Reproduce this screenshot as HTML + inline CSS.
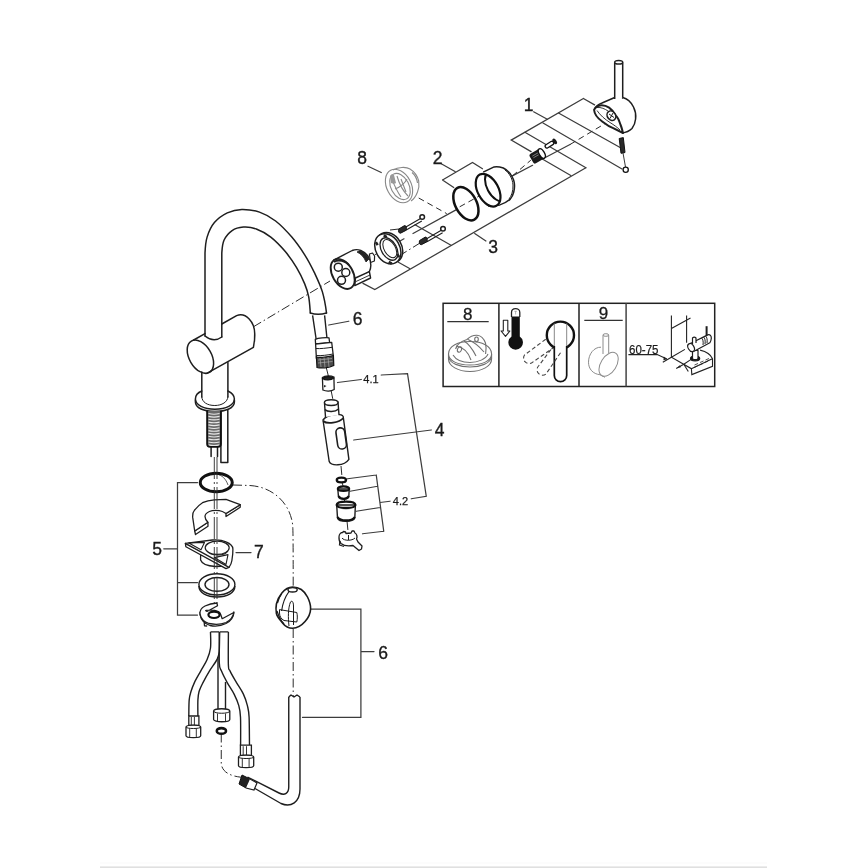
<!DOCTYPE html>
<html><head><meta charset="utf-8">
<style>
html,body{margin:0;padding:0;background:#fff;width:868px;height:868px;overflow:hidden}
svg{display:block}
text{font-family:"Liberation Sans",sans-serif;fill:#1a1a1a}
svg{will-change:transform}
</style></head><body>
<svg width="868" height="868" viewBox="0 0 868 868">
<rect width="868" height="868" fill="#fff"/>
<rect x="100" y="866.4" width="667" height="1.6" fill="#e0e0e0"/><rect x="100" y="862.5" width="667" height="1" fill="#fafafa"/>

<!-- ===== leader / bracket lines ===== -->
<g fill="none" stroke="#3c3c3c" stroke-width="1.25" stroke-linecap="round">
<!-- bracket 1 -->
<path d="M533.6,111.8 L547.3,119.2"/>
<path d="M583.4,98.5 L594.6,104.9 M583.4,98.5 L511.2,140.1 L531.1,151.6"/>
<path d="M558.5,113 L621,148 M543,123 L622,169 M524.9,132.3 L585.9,167.8 M542.3,159 L570.8,175.5"/>
<!-- bracket 3 -->
<path d="M363,283.4 L374.8,289.6 L585.9,167.8"/>
<path d="M398.4,262.3 L409.6,268.5 M415,224.8 L451,245.3 M474.7,233.5 L485.9,241"/>
<path d="M397,242.8 L404,238.8 M413,233.5 L456,209.9"/>
<path d="M512.4,175.9 L532.6,165.3"/>
<path d="M542.5,159 L570,144.5"/>
<!-- bracket 2 -->
<path d="M441.25,163.75 L455,171.5 M442.5,180 L472.5,162.5 L482.5,168.75 M442.5,180 L453.75,187.5"/>
<!-- label 8 -->
<path d="M368,166.25 L381.25,172.5"/>
<!-- label 6 top -->
<path d="M328.75,325 L348.75,321.25"/>
<!-- 4.1 / 4 / 4.2 -->
<path d="M337.5,382.5 L361.25,379.5 M381.25,375 L407.5,373.75 L426.25,496.25 L411.25,498.75"/>
<path d="M353.75,440 L431.25,430"/>
<path d="M347.5,478.75 L376.25,475 M350,491.25 L377.5,486.25 M356.25,511.25 L380,507.5 M362.5,533.75 L383.75,531.25 M376.25,475 L383.75,531.25 M380,502.5 L390,501.25"/>
<!-- bracket 5 -->
<path d="M197.5,482.5 L177.5,482.5 L177.5,615 L197.5,615 M177.5,582.5 L197.5,582.5 M163.75,548.75 L177.5,548.75"/>
<!-- label 7 -->
<path d="M236,552.5 L251,552.5"/>
<!-- bracket 6 -->
<path d="M310.5,609.2 L360.9,609.2 L360.9,717.4 L302.5,717.4 M360.9,651.5 L374,651.5"/>
</g>

<!-- ===== dash-dot axis lines ===== -->
<g fill="none" stroke="#2a2a2a" stroke-width="1" stroke-dasharray="9,3,1.5,3">
<path d="M253.4,326.8 L330,281"/>
<path d="M233,485 L250,485.5 C273,487 290,503 292.7,525 C293,530 293.2,540 293.2,587"/>
<path d="M293.2,629 L293.2,696"/>

<path d="M221.25,733.5 L221.25,763.5 C222,772 230,776 241.25,777.25"/>
<path d="M326.25,367.5 L328.75,377.5 M331,390 L333,400"/>
<path d="M341,466 L342,477 M342,482 L343,486 M344,499 L345,502 M347,521 L348,531"/>
<path d="M374.8,254.8 L381,251"/>
<path d="M399,256 L420,243 M390,230 L399,229"/>
</g>
<g fill="none" stroke="#2a2a2a" stroke-width="1" stroke-dasharray="6,4">
<path d="M418.7,198 L446.7,213.6"/>
<path d="M459.7,206.8 L483.4,193.7"/>
<path d="M512.4,175.9 L530.8,160.2"/>
<path d="M570,144.5 L606,123"/>

</g>

<g fill="none" stroke="#1e1e1e" stroke-width="1.5" stroke-linejoin="round" stroke-linecap="round">
<!-- spout -->
<path d="M205,336 L205,253.2 C205.3,246.9 205.5,242.2 207.1,237.1 C208.7,232.0 211.0,226.6 214.4,222.6 C217.8,218.6 222.7,215.1 227.3,212.9 C231.9,210.7 236.4,209.5 241.8,209.4 C247.2,209.3 253.9,210.2 259.5,212.1 C265.1,214.0 270.2,216.8 275.6,221.0 C281.0,225.2 287.0,231.5 291.8,237.1 C296.6,242.7 300.9,248.9 304.7,254.8 C308.5,260.7 311.4,266.4 314.4,272.6 C317.3,278.8 320.4,285.2 322.4,291.9 C324.4,298.6 325.7,306.5 326.5,312.9"/>
<path d="M221.8,337 L221.8,253.2 C222.2,247.4 222.3,244.1 224.0,240.3 C225.7,236.5 228.9,232.8 232.1,230.6 C235.3,228.4 239.4,227.4 243.4,227.1 C247.4,226.8 251.7,227.3 256.3,229.0 C260.9,230.7 266.0,233.3 270.8,237.1 C275.6,240.9 281.0,246.5 285.3,251.6 C289.6,256.7 293.4,262.3 296.6,267.7 C299.8,273.1 302.7,279.0 304.7,283.9 C306.7,288.8 307.8,292.0 308.7,296.8 C309.6,301.6 309.9,307.4 310.3,312.9"/>
<path d="M310.3,313 Q318,315.5 326.5,313"/>
<path d="M205,336 Q213.6,343 221.8,337"/>
<!-- body -->
<ellipse cx="200.4" cy="356.7" rx="11.1" ry="18.1" transform="rotate(-30 200.4 356.7)"/>
<path d="M193.7,340 L205,333.6 M221.8,324 L236.6,315.6 C246,312 254.7,322 254.7,333.6 C255,340 254,344 253.4,347.3 L206.8,373.4"/>
<!-- column -->
<path d="M201.8,372 L201.8,397 M227.9,362.5 L227.9,397"/>
<!-- flange -->
<path d="M201.8,391 C197,393 195.4,396 195.4,399 C195.4,405 204,409.2 214.9,409.2 C226,409.2 234.4,405 234.4,399 C234.4,396 232,393 227.9,391"/>
<path d="M195.4,400 L195.4,402 C195.4,408 204,411.5 214.9,411.5 C226,411.5 234.4,408 234.4,402 L234.4,400"/>
<path d="M201.8,397 C202,402 207,405.5 214.8,405.5 C222,405.5 227.6,402 227.9,397" stroke-width="1"/>
<!-- threaded rod -->

<path d="M220.9,412 L220.9,462.5 M227.8,410 L227.8,462.5 M220.9,462.5 L227.8,462.5"/>
<path d="M211.1,446.8 L211.1,456.6 M217.5,446.8 L217.5,456.6"/>
</g>
<rect x="207.1" y="410.8" width="13.8" height="35.5" rx="2" fill="#6a6a6a"/>
<g fill="none" stroke="#e8e8e8" stroke-width="1.1"><path d="M208.5,413.5 Q214,414.9 219.5,413.5"/><path d="M208.5,416.4 Q214,417.8 219.5,416.4"/><path d="M208.5,419.2 Q214,420.6 219.5,419.2"/><path d="M208.5,422.1 Q214,423.4 219.5,422.1"/><path d="M208.5,424.9 Q214,426.3 219.5,424.9"/><path d="M208.5,427.8 Q214,429.1 219.5,427.8"/><path d="M208.5,430.6 Q214,432.0 219.5,430.6"/><path d="M208.5,433.4 Q214,434.8 219.5,433.4"/><path d="M208.5,436.3 Q214,437.7 219.5,436.3"/><path d="M208.5,439.1 Q214,440.5 219.5,439.1"/><path d="M208.5,442.0 Q214,443.4 219.5,442.0"/><path d="M208.5,444.9 Q214,446.2 219.5,444.9"/></g>
<path d="M207.1,410.8 L207.1,444 Q207.1,446.8 210,446.8 L218,446.8 Q220.9,446.8 220.9,444 L220.9,410.8" fill="none" stroke="#111" stroke-width="1.8"/>

<!-- O-ring -->
<path d="M216.5,474 C222,475 226,479 228,485" fill="none" stroke="#333" stroke-width="0.8"/>
<ellipse cx="216.25" cy="482.5" rx="16" ry="9.3" fill="none" stroke="#111" stroke-width="3"/>

<!-- shim (half moon) -->
<g fill="#fff" stroke="#1e1e1e" stroke-width="1.3" stroke-linejoin="round">
<path d="M194.7,531 L195.5,534.5 L208,526.3 L207.9,522.3 Z"/>
<path d="M240.2,504.7 L240.2,507.3 L226,516.5 L226,513.5 Z"/>
<path d="M194.7,531 L192.7,517.4 C192.5,514 193,512 194.2,510.6 C197,507 199.5,504.5 202.5,502.7 C207,500.5 211,500 214.3,499.8 L226,499.3 L240.2,504.7 L226,513.5 C223,511.5 221,510.8 219.2,510.6 C215,510.2 211.5,510.6 209.4,511.5 C206.5,512.8 205,514.5 205,516.4 C205,518.5 205.8,520 207.9,522.3 Z"/>
</g>

<!-- part 7 triangle -->
<g fill="#fff" stroke="#1e1e1e" stroke-width="1.3" stroke-linejoin="round">
<path d="M200.6,555 L200.6,560 C202,564 208,566 215.3,566.5 L226,566 L226,556 Z"/>
<path d="M185.4,543.4 L185.9,546.8 L226,568.6 L229,567.4 L226,564 Z"/>
<path d="M185.4,543.4 L212.3,540 C218,539.5 222,540 226,541.9 C230,543.5 232.9,546 232.9,549 C233,553 232.5,557 231.9,560.5 C231.5,563 230.5,565.5 229,567.4 L185.4,543.4 Z"/>
<path d="M188.8,542.9 L204.5,542.4 L201,549.7 Z" fill="none" stroke-width="1.1"/>
<path d="M214.3,557.6 L228,554.6 L226,564.4 Z" fill="none" stroke-width="1.1"/>
<ellipse cx="217.2" cy="547.8" rx="12" ry="6.6" fill="none" stroke-width="1.2"/>
<path d="M207,551 C209,554 213,555 218,555 C223,555 226.5,553.5 228,551" fill="none" stroke-width="1.1"/>
</g>

<!-- washer -->
<g fill="none" stroke="#1e1e1e" stroke-width="1.4">
<ellipse cx="216.9" cy="584.4" rx="18" ry="10.6"/>
<ellipse cx="217" cy="584.4" rx="12" ry="6.9"/>
<path d="M198.9,586 C199,593 207,597 217,597 C227,597 234.9,593 234.9,586"/>
</g>

<!-- C clip -->
<g fill="#fff" stroke="#1e1e1e" stroke-width="1.3" stroke-linejoin="round">
<path d="M200.1,612 L200.1,614.5 C201,620 205,624 210,625.5 C215,626.5 221,626 226,623.5 C230.5,621 233.5,617 233.8,613.1 L233.8,611.5"/>
<path d="M217,603 L217.5,605.8 L207,611.5 C205.5,611 205.5,610.5 206.1,610.4 C209,610 212,610 214.7,610.4 C218,611 220,612 220.5,614 L222.2,618.7 L233.8,612.5 C233,617 230,620.5 226,622.5 C221,624.5 215,624.8 209,623.5 C204,622 201,619 200.1,614.5 C199.5,611 201,608 205,606 C208,604.5 212,603.3 217,603 Z"/>
<path d="M204.2,622.4 L204.5,625.8 L207.2,626" fill="none"/>
</g>
<ellipse cx="214" cy="614.8" rx="5.6" ry="3.2" fill="none" stroke="#111" stroke-width="2.2"/>

<!-- hoses -->
<g fill="none" stroke="#1e1e1e" stroke-width="1.4" stroke-linejoin="round">
<path d="M210.5,631.9 C210.5,634.6 211.1,643.4 210.5,648.0 C209.9,652.6 208.7,655.8 207.1,659.6 C205.5,663.5 202.8,667.3 200.7,671.1 C198.6,674.9 196.0,679.2 194.4,682.6 C192.8,686.0 191.8,688.9 190.9,691.8 C190.0,694.7 189.5,695.9 189.2,699.9 C188.8,703.9 188.9,713.3 188.8,716.0"/>
<path d="M219.2,631.9 C219.2,635.2 219.6,646.9 219.2,651.5 C218.8,656.1 218.5,656.3 216.9,659.6 C215.3,662.9 211.7,667.3 209.4,671.1 C207.1,674.9 204.7,679.2 203.0,682.6 C201.3,686.0 199.8,688.9 199.0,691.8 C198.2,694.7 198.1,695.9 197.9,699.9 C197.7,703.9 197.9,713.3 197.9,716.0"/>
<path d="M219.7,631.9 C219.6,637.1 219.0,656.5 219.3,663.0 C219.6,669.5 220.2,667.8 221.5,671.1 C222.8,674.4 225.1,678.8 227.2,682.6 C229.3,686.4 232.2,690.3 234.1,694.1 C236.0,697.9 237.7,701.8 238.8,705.6 C239.9,709.5 240.2,710.6 240.5,717.2 C240.8,723.9 240.6,740.8 240.6,745.5"/>
<path d="M228.4,631.9 C228.4,637.5 228.1,658.8 228.4,665.3 C228.7,671.8 228.8,668.2 230.1,671.1 C231.4,674.0 234.3,678.8 236.5,682.6 C238.7,686.4 241.6,690.3 243.4,694.1 C245.2,697.9 246.5,701.8 247.4,705.6 C248.3,709.5 248.8,710.6 249.1,717.2 C249.4,723.9 249.4,740.8 249.5,745.5"/>
<path d="M210.5,631.9 L219.2,631.9 M219.7,631.9 L228.4,631.9"/>
<path d="M218,657 L218,710 M225.5,682 L225.5,710"/>
</g>
<!-- fittings -->
<g fill="#fff" stroke="#1e1e1e" stroke-width="1.3">
<path d="M188.8,716 L198.9,716 L198.9,725.5 L188.8,725.5 Z"/>
<path d="M191.3,717 L191.3,725.5 M194.4,717 L194.4,725.5" stroke-width="0.9"/>
<path d="M186,727.0 C186,724.5 200.7,724.5 200.7,727.0 L200.7,735.8 C200.7,738.3 186,738.3 186,735.8 Z"/>
<path d="M186,727.0 C186,729.0 200.7,729.0 200.7,727.0" fill="none" stroke-width="1"/>
<path d="M189.7,728.5 L189.7,737.3 M196.3,728.5 L196.3,737.3" fill="none" stroke-width="0.9"/>
<path d="M213.6,711 C213.6,708 229.8,708 229.8,711 L229.8,719.5 C229.8,722.5 213.6,722.5 213.6,719.5 Z"/>
<path d="M213.6,711 C213.6,714 229.8,714 229.8,711" fill="none" stroke-width="1"/>
<path d="M217.5,713.5 L217.5,722 M225.5,713.5 L225.5,722" fill="none" stroke-width="0.9"/>
<path d="M240.4,745.2 L251.4,745.2 L251.4,755.5 L240.4,755.5 Z"/>
<path d="M243.2,746.2 L243.2,755.5 M246.5,746.2 L246.5,755.5" stroke-width="0.9"/>
<path d="M238.5,757.0 C238.5,754.5 253.7,754.5 253.7,757.0 L253.7,765.8 C253.7,768.3 238.5,768.3 238.5,765.8 Z"/>
<path d="M238.5,757.0 C238.5,759.0 253.7,759.0 253.7,757.0" fill="none" stroke-width="1"/>
<path d="M242.3,758.5 L242.3,767.3 M249.1,758.5 L249.1,767.3" fill="none" stroke-width="0.9"/>
</g>
<ellipse cx="221.4" cy="730.9" rx="4.6" ry="2.8" fill="none" stroke="#111" stroke-width="2.6"/>

<!-- part 6 ball -->
<g fill="#fff" stroke="#1a1a1a" stroke-width="1.6" stroke-linejoin="round">
<path d="M292.6,587.1 C300,587.1 305,592 307.5,597 C310,602 310.8,606 310.6,609 C310.4,617 302,628.2 292.6,628.2 C288,628.2 285,626 283,623.4 C280,620 277,617 276.4,613.7 C275.8,610 275.8,607 276.4,604 C278,597 284,587.1 292.6,587.1 Z"/>
<ellipse cx="292.6" cy="589.8" rx="4.6" ry="2.2" stroke-width="1.4"/>
<path d="M289,591.5 C285,597 282.5,604 281.6,611 M277.5,603 C279,598 280,596 281.5,594" fill="none" stroke-width="1.2"/>
<path d="M277,611 C279,617 281,621 284,624" fill="none" stroke-width="1.2"/>
<path d="M289,626 C288,618 288,608 290.5,602 C292,600 293.5,602 293.5,606 L293.5,625" fill="none" stroke-width="1"/>
<path d="M279.5,609.6 L296.8,612.5 C297.5,615 297.5,619 296.8,622 L284,620.5 C281,619 279.5,616 279.5,613 Z" fill="none" stroke-width="1"/>
</g>
<!-- part 6 bottom tube -->
<g fill="none" stroke="#1e1e1e" stroke-width="1.4" stroke-linejoin="round">
<path d="M288.75,697 L291,695 L294,697 L297,695 L300,697"/>
<path d="M288.75,697 L288.75,787 C288.75,793 285,796 279,793 L247.5,777"/>
<path d="M300,697 L300,789 C300,802 291,808 281,803.5 L255,788.5"/>
</g>
<g fill="#222" stroke="#111" stroke-width="1">
<path d="M242,775 L250,779 L246,788 L239,784 Z"/>
</g>
<path d="M250,779 L257,783 L254,790 L246,788" fill="#fff" stroke="#1e1e1e" stroke-width="1.2"/>

<!-- spray hose + connector -->
<g fill="none" stroke="#1e1e1e" stroke-width="1.4">
<path d="M312.6,315.4 L316.2,339.5 M324.6,315.4 L327,338.5"/>
</g>
<g fill="#fff" stroke="#1e1e1e" stroke-width="1.3" stroke-linejoin="round">
<path d="M315.3,339.3 C318,338 326,337.3 329,337.8 L329.6,342.3 C326,343 319,343.8 315.6,344 Z"/>
<path d="M315.6,344 L331.7,342.3 L333.4,356.5 L316.4,358.5 Z"/>
<path d="M315.9,348.5 C320,349 327,348 332.2,347.3 M316.2,355.5 C321,356 328,355 333,354" fill="none" stroke-width="1"/>
</g>
<path d="M316.4,357 C321,358 329,356.5 333.4,355.5 L333.8,365.5 C329,368 321,368.5 317,367.5 Z" fill="#4a4a4a" stroke="#111" stroke-width="1.2"/>
<path d="M318,360 L332,358.5 M318,363 L332.5,361.5 M320,358 L321,367 M324,357.5 L325,367.5 M328,357 L329,367" stroke="#aaa" stroke-width="0.7" fill="none"/>
<!-- 4.1 bush -->
<path d="M322.4,377.5 C325,375.5 331,375.5 333.9,377 L334.2,389.5 C331,391.5 326,391.5 322.9,390 Z" fill="#fff" stroke="#1e1e1e" stroke-width="1.3"/>
<path d="M322.6,378.5 C325,376 331,376 333.8,378 C331,380.5 325,380.5 322.6,378.5 Z" fill="#222" stroke="#111" stroke-width="1.2"/>
<path d="M324,385 L326.5,386 L324,387.5 Z" fill="#222"/>
<!-- spray body -->
<g fill="#fff" stroke="#1e1e1e" stroke-width="1.4" stroke-linejoin="round">
<path d="M323,420 L329.2,461.5 C331,466 344,466.5 348.9,459.4 L343.2,416.5 C341,413 327,414 323,420 Z"/>
<path d="M323.2,421 C327,424.5 339,423 343.4,418" fill="none" stroke-width="1.8"/>
<path d="M325.5,417 L324.5,403 L338,402 L339,415" />
<ellipse cx="331.2" cy="402.6" rx="6.8" ry="2.9"/>
<path d="M324.8,409.5 C328,412.5 335,412 338.6,409" fill="none" stroke-width="1.6"/>
<rect x="336.8" y="427.8" width="8.8" height="21.3" rx="4.4" transform="rotate(-8 341.2 438.5)" stroke-width="1.6"/>
</g>
<!-- 4.2 parts -->
<ellipse cx="341.4" cy="480" rx="4.6" ry="2.4" fill="none" stroke="#111" stroke-width="2.4"/>
<g fill="#fff" stroke="#1e1e1e" stroke-width="1.4" stroke-linejoin="round">
<path d="M337.8,489 L338.5,497 C340,500 347,500 348.8,497 L349.2,489 Z"/>
<path d="M336.7,505 L337.5,518 C339,522.5 353,522.5 354.8,518 L355.4,505 Z"/>
</g>
<path d="M337.8,489 C338,485.5 349,485.5 349.2,489 C349,491.5 338,491.5 337.8,489 Z" fill="none" stroke="#111" stroke-width="2.2"/>
<path d="M338.5,496 C341,499.5 347,499.5 348.8,496" fill="none" stroke="#111" stroke-width="2"/>
<path d="M336.7,505 C337,500.5 355,500.5 355.4,505 C355,509 337,509 336.7,505 Z" fill="none" stroke="#111" stroke-width="2.4"/>
<path d="M337.5,517 C340,521.5 352,521.5 354.8,517" fill="none" stroke="#111" stroke-width="2.2"/>
<g fill="#fff" stroke="#1e1e1e" stroke-width="1.3" stroke-linejoin="round">
<path d="M339,537 C339,534 341,532.5 342.5,532.5 L343.5,531.5 L345.5,532 L346,533.5 L351,533 L352,531 L354,531 L355,533 C357,534 357.5,537 356.5,539 L358,542 L362,546 L361.5,549 L359,550.5 L353,545.5 C350,546 344,546 341,543.5 C339.5,542 338.8,540 339,537 Z"/>
<path d="M340,541 L339.5,545 L344,546.5" fill="none"/>
<path d="M342,538 C344,541 352,541 355,538" fill="none" stroke-width="1"/>
<path d="M348.5,535 L348.5,540" fill="none" stroke-width="1"/>
</g>
<!-- cartridge -->
<g fill="#fff" stroke="#1e1e1e" stroke-width="1.4" stroke-linejoin="round">
<path d="M369.4,254 L372.5,253 L374.6,256 L374.4,261 L370.5,262.5 Z" stroke-width="1.2"/>
<path d="M333.2,260.3 L352.2,250.5 C358,248 364,251 368,256 C371,261 371.5,267 369.4,271.5 L350,283"/>
<path d="M360,250.5 C364,252 367,255 369,259 L366,262 C364,257 361,254 357,252 Z" fill="#222" stroke-width="0.8"/>
<path d="M355.4,278 L369.4,271.7 L370.6,278 L354.8,285.6 Z"/>
<path d="M356,281.5 L370,275" fill="none" stroke-width="0.9"/>
<ellipse cx="342.7" cy="273.9" rx="10.2" ry="16.3" transform="rotate(-30 342.7 273.9)" stroke-width="1.9"/>
<path d="M334,262 C338,259 346,261 349,265" fill="none" stroke-width="2"/>
<circle cx="338.3" cy="267.2" r="4" stroke-width="1.5"/><circle cx="345.8" cy="272.5" r="4" stroke-width="1.5"/><circle cx="341.5" cy="280.3" r="4" stroke-width="1.5"/>
</g>
<!-- ring nut -->
<g fill="#fff" stroke="#1e1e1e" stroke-width="1.5">
<ellipse cx="389.6" cy="247.6" rx="12" ry="16" transform="rotate(-30 389.6 247.6)"/>
<ellipse cx="387.8" cy="248.8" rx="12" ry="16" transform="rotate(-30 387.8 248.8)"/>
<ellipse cx="389" cy="249" rx="7.6" ry="12.2" transform="rotate(-30 389 249)" fill="none" stroke-width="1.3"/>
<ellipse cx="389.8" cy="248.6" rx="5.6" ry="10" transform="rotate(-30 389.8 248.6)" fill="none" stroke-width="1"/>
</g>
<g fill="#222">
<rect x="375.5" y="242" width="2.5" height="3.5" transform="rotate(-30 376.7 243.7)"/>
<rect x="384" y="234.5" width="2.5" height="3.5" transform="rotate(-60 385.2 236.2)"/>
<rect x="397" y="254" width="2.5" height="3.5" transform="rotate(-30 398.2 255.7)"/>
<rect x="389" y="261" width="2.5" height="3.5" transform="rotate(-60 390.2 262.7)"/>
</g>
<!-- bolts -->
<g fill="none" stroke="#1e1e1e" stroke-width="1.1">
<path d="M405,227.5 L420.5,218.5 M406.2,230 L421.8,221"/>
<path d="M425.8,239.3 L441.3,230.3 M427,241.8 L442.6,232.8"/>
</g>
<g fill="#2a2a2a" stroke="#111" stroke-width="1">
<path d="M398.8,229 L404.5,225.6 C406,225.3 406.8,227.5 406.3,230.2 L400.5,233.2 C398.8,233.5 398,231 398.8,229 Z"/>
<path d="M419.6,240.5 L425.3,237.1 C426.8,236.8 427.6,239 427.1,241.7 L421.3,244.7 C419.6,245 418.8,242.5 419.6,240.5 Z"/>
</g>
<g fill="#fff" stroke="#1e1e1e" stroke-width="1.5">
<circle cx="422.2" cy="217" r="2.3"/>
<circle cx="443" cy="228.8" r="2.3"/>
</g>
<!-- part 8 (grey) -->
<g fill="none" stroke="#888" stroke-width="1.1">
<path d="M393,170 C398,167 406,166.5 410,169 C414,171.5 417.5,176 418.7,181 C419.3,185 418.8,189 417.5,192 C416,196 414,199 411,201"/>
<path d="M412,172.5 C415,175 417,179 417.5,183"/>
<ellipse cx="399" cy="186" rx="12.2" ry="17.8" transform="rotate(-28 399 186)"/>
<ellipse cx="400" cy="186.5" rx="9" ry="14" transform="rotate(-28 400 186.5)"/>
<path d="M391,177 C393,182 396,190 401,197 M397,176 C399,183 402,190 408,196 M401,179 L406,192 M395,189 C400,187 405,183 407,179"/>
</g>
<path d="M390,176 C391,174 393,174 394,175 L396,183 C395,184 393,184 391,183 Z" fill="#999"/>
<!-- O-ring part 2 -->
<ellipse cx="465.9" cy="203.7" rx="10.6" ry="18" transform="rotate(-28 465.9 203.7)" fill="none" stroke="#111" stroke-width="2.5"/>
<!-- cap part 2 -->
<g fill="#fff" stroke="#1e1e1e" stroke-width="1.5" stroke-linejoin="round">
<path d="M483.2,172.1 L494.1,166.9 C497,166.3 500.5,167 503.3,168 C506.5,169.5 508.5,171.5 510.3,173.8 C512.5,177 514,180 514.3,183 C514.8,186 514.5,189 513.7,192.2 C513,195 512,197 510.3,199.1 C507,202 503,204 499.9,204.9 L488,206"/>
<path d="M505,170 C509,173 512.5,178 513,185 C513.3,191 511.5,196 509,199" fill="none" stroke-width="1"/>
</g>
<ellipse cx="488.1" cy="190.2" rx="10.4" ry="17.7" transform="rotate(-28 488.1 190.2)" fill="#fff" stroke="#111" stroke-width="2.2"/>
<clipPath id="capclip"><ellipse cx="488.1" cy="190.2" rx="10.4" ry="17.7" transform="rotate(-28 488.1 190.2)"/></clipPath>
<g clip-path="url(#capclip)"><ellipse cx="496.5" cy="186" rx="9.6" ry="16.5" transform="rotate(-28 496.5 186)" fill="none" stroke="#111" stroke-width="2"/></g>
<!-- set screw / nut of part 1 -->
<g transform="rotate(-30 537.5 156)">
<rect x="530.5" y="150.5" width="13" height="11" rx="2" fill="#1a1a1a"/>
<path d="M533,153.5 L540,153.5 M533,155.5 L540,155.5" stroke="#999" stroke-width="0.7"/>
<ellipse cx="542.5" cy="156" rx="2.6" ry="5.3" fill="#fff" stroke="#111" stroke-width="1.4"/>
</g>
<g transform="rotate(-32 550.5 144)">
<rect x="544.5" y="142.2" width="9.5" height="3.6" rx="1.8" fill="#fff" stroke="#111" stroke-width="1.3"/>
<ellipse cx="555.5" cy="144" rx="1.8" ry="3.2" fill="#1a1a1a"/>
</g>
<!-- handle part 1 -->
<g fill="#fff" stroke="#1e1e1e" stroke-width="1.5" stroke-linejoin="round">
<path d="M614.7,62.5 L614.7,99 M622.7,62.5 L622.7,99"/>
<ellipse cx="618.7" cy="62.3" rx="4" ry="1.8"/>
<path d="M594.1,110 C596,106 599,104 602,103 L614.7,97.5 M622.7,97.5 C627,98.5 631,102 633.5,107 C635.5,111 636,116 635.6,119 C635.2,123 634,126 632,128.5 C629.5,131 626,132.5 622,133"/>
<path d="M594.1,110 C594.5,114.5 598,118.5 602.2,121.5 C606,124.5 610,127 613.7,128.4 C617,130 620,131.5 623,133 C622,129 621.5,127 620.6,125 C619,120 617.5,117 616,115.7 C613.5,111.5 611,109 609.1,107.7 C606,105.5 603,105 599.9,105.4 C597,106 595,107.5 594.1,110 Z" stroke-width="2"/>
<path d="M597,110.5 C600,115 605,119.5 610,122.5 C614,125 617.5,127.5 620,130" fill="none" stroke-width="0.9"/>
<path d="M597,107.5 C601,107 605,109 608,111" fill="none" stroke-width="0.9"/>
<ellipse cx="611.4" cy="115.7" rx="4" ry="5" transform="rotate(-35 611.4 115.7)" fill="#fff" stroke-width="1.6"/>
<path d="M609,114 L614,117.5 M610,118.5 L613,113" fill="none" stroke-width="1"/>
</g>
<path d="M619.2,138.5 L623.3,137.6 L625,152.5 L621,153.3 Z" fill="#2a2a2a" stroke="#111" stroke-width="1"/>
<path d="M623,153 L625.5,167" stroke="#222" stroke-width="0.9"/>
<circle cx="625.7" cy="169.8" r="2.6" fill="#fff" stroke="#111" stroke-width="1.3"/>

<!-- overlay centerline -->
<g fill="none" stroke="#2a2a2a" stroke-width="0.9" stroke-dasharray="22,3,2,3">
<path d="M214.3,457 L214.3,603 M217,457 L217,603"/>
</g>
<!-- inset box -->
<g fill="none" stroke="#222" stroke-width="1.5">
<rect x="443.1" y="303.3" width="271.6" height="83.2"/>
<path d="M498.9,303.3 L498.9,386.5 M579,303.3 L579,386.5"/>
<path d="M626.1,303.3 L626.1,386.5" stroke="#444"/>
</g>
<g fill="none" stroke="#333" stroke-width="1.2">
<path d="M447.3,321.6 L488.7,321.6 M584.3,320.4 L622.7,320.4"/>
</g>
<g font-size="17" text-anchor="middle" stroke="#1a1a1a" stroke-width="0.3">
<text x="467.7" y="319.7">8</text>
<text x="603.5" y="318.7">9</text>
</g>
<!-- inset part 8 grey -->
<g fill="none" stroke="#707070" stroke-width="1.1">
<path d="M448.5,354 L448.5,359 C448.5,366 458,371.5 470,371.5 C482,371.5 491.6,366 491.6,359 L491.6,354"/>
<path d="M449,358 C450,363 459,367 470,367 C481,367 490,363 491,358"/>
<path d="M448.5,354 C448.5,346 458,341.5 470,341.5 C482,341.5 491.6,346 491.6,354 C491.6,361 482,365 470,365 C458,365 448.5,361 448.5,354 Z"/>
<path d="M453,355 C456,360 463,362.5 470,362.5 C478,362.5 486,359 488,354"/>
<path d="M455.6,349 C457,344 462,341 467,339.5 C470,336.5 473.5,335 477,335.2 C481,335.5 484,339 485.5,343 C486.5,347 486.2,350 485.6,354"/>
<path d="M456,346 C462,347 468,351 471,360 M464,341 C469,344 473,350 476,356 M468,339.5 C474,342 479,346 484,352"/>
<ellipse cx="459.5" cy="349.5" rx="2" ry="2.8" transform="rotate(20 459.5 349.5)"/>
<ellipse cx="476.5" cy="339.3" rx="1.8" ry="2.3"/>
</g>
<!-- thermometer -->
<path d="M511.5,317 L511.5,312.5 C511.5,310 513.5,308.6 515.6,308.6 C517.7,308.6 519.8,310 519.8,312.5 L519.8,317" fill="none" stroke="#222" stroke-width="1.3"/>
<path d="M511.5,316.5 L519.8,316.5 L519.8,336.5 A7.3,7.3 0 1 1 511.5,336.5 Z" fill="#111"/>
<path d="M515.6,311 L515.6,314.5 M514.3,311.3 L516.9,311.3" stroke="#999" stroke-width="0.7"/>
<path d="M503.3,320.2 L507.8,320.2 L507.8,331 L509.9,331 L505.5,336.3 L501.1,331 L503.3,331 Z" fill="#fff" stroke="#222" stroke-width="1.1" stroke-linejoin="round"/>
<!-- handle panel -->



<circle cx="560.4" cy="335.2" r="13.6" fill="none" stroke="#111" stroke-width="2.4"/>
<path d="M554.3,323.5 L554.3,347 M566.7,323.5 L566.7,347" stroke="#888" stroke-width="1"/>
<path d="M554.3,346 L554.3,375.5 A6.2,6.2 0 0 0 566.7,375.5 L566.7,346" fill="#fff" stroke="#111" stroke-width="1.7"/>
<g fill="none" stroke="#444" stroke-width="1.1" stroke-dasharray="4,2.5">
<path d="M545.7,339.2 L524.5,355 A5.5,5.5 0 0 0 531.5,363 L553,348"/>
<path d="M551,349.5 L538.5,366 A5.5,5.5 0 0 0 546,374 L561,352"/>
</g>
<!-- knob panel 9 -->
<g fill="#fff" stroke="#8c8c8c" stroke-width="1">
<path d="M601,347.2 C594,347 588.5,354 588.5,362.2 C588.5,369 593,374 599.9,374.7 L605,377.3"/>
<ellipse cx="608.6" cy="364.3" rx="7.8" ry="13.2" transform="rotate(32 608.6 364.3)"/>
<path d="M603,354 L603,335.2 M608.7,353 L608.7,335.2" fill="none"/>
<ellipse cx="605.85" cy="335" rx="2.85" ry="1.3"/>
</g>
<!-- 60-75 panel -->
<text x="629" y="354.2" font-size="12" textLength="29.5" lengthAdjust="spacingAndGlyphs" stroke="#1a1a1a" stroke-width="0.2">60-75</text>
<g fill="none" stroke="#222" stroke-width="1.1">
<path d="M628.4,354.6 L657.2,354.6 L666.9,359"/>
<path d="M662.8,362.2 L671.4,357.3 M676.2,368.4 L683.8,364.2 L691.1,359.4"/>
<path d="M683.8,364.2 L688.3,371.5"/>
<path d="M671.4,315.5 L671.4,357.3 L691.4,368.7 L691.8,374.6 L712.5,366.3 L712.5,358.7 C711,355 706,351.5 700.1,350.1 M691.4,368.7 L711.8,359"/>
<path d="M686.6,315.5 L686.6,342.8 M671.4,328.6 L690.5,318 M671.4,357.3 L684.9,349.4"/>
<path d="M694.5,365 L698,363.5 M700,362.5 L703.5,361 M705.5,360 L709,358.5 M694,367.5 L697.5,366 M699.5,365 L703,363.5 M705,362.5 L708,361" stroke-width="0.8"/>
</g>
<path d="M663.8,356.6 L667.3,359.2 L663.4,360.2 Z M679.8,365.2 L676.8,368 L681,367.2 Z" fill="#222"/>
<g fill="#fff" stroke="#1e1e1e" stroke-width="1.2" stroke-linejoin="round">
<ellipse cx="695.1" cy="358.4" rx="4.6" ry="2.4" fill="#111"/>
<path d="M692.5,350.4 L692.5,358.5 C693.5,360 697,360 698,358.5 L698,350.4 Z"/>
<path d="M690.4,343.5 L707.7,334.9 C710,334 711.5,336 711.3,338.5 C711,341 710.5,342 709.8,342.8 L693.2,351.8"/>
<ellipse cx="691.1" cy="347.6" rx="2.9" ry="4.3" transform="rotate(-30 691.1 347.6)"/>
<path d="M692.5,344.2 L692.5,338 C693.5,337 695,337 696,338 L696,343"/>
<path d="M701.5,338 C703,339 703.5,342 703,345 M703.5,337 C705,338 705.5,341 705,344 M705.5,336 C707,337 707.5,340 707,343" fill="none" stroke-width="1"/>
<path d="M706.6,335.5 L706.6,326.2" stroke-width="2"/>
</g>

<!-- labels -->
<g font-size="17.5" text-anchor="middle" stroke="#1a1a1a" stroke-width="0.35">
<text x="528.5" y="110.5">1</text>
<text x="362" y="163.8">8</text>
<text x="437.5" y="163.8">2</text>
<text x="493" y="252.5">3</text>
<text x="357.5" y="325">6</text>
<text x="439.5" y="436.3">4</text>
<text x="157" y="555">5</text>
<text x="258.75" y="558">7</text>
<text x="383" y="659">6</text>
</g>
<g font-size="11" text-anchor="middle" stroke="#1a1a1a" stroke-width="0.25">
<text x="371" y="382.5">4.1</text>
<text x="400.5" y="505">4.2</text>
</g>
</svg>
</body></html>
